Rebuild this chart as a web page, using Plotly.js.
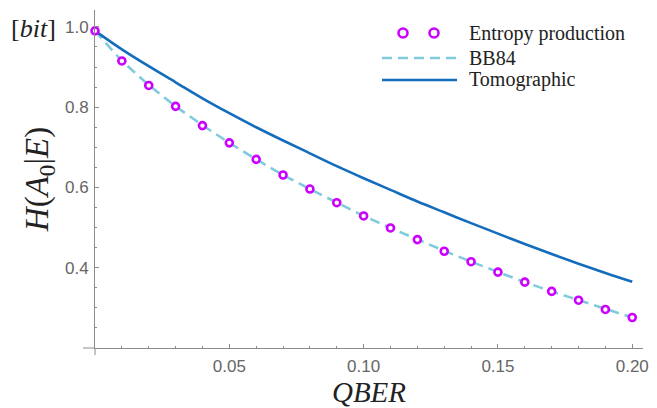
<!DOCTYPE html>
<html>
<head>
<meta charset="utf-8">
<script src="https://cdn.plot.ly/plotly-3.0.1.min.js"></script>
<style>html,body{margin:0;padding:0;background:#fff;}#chart{width:657px;height:408px;}</style>
</head>
<body>
<div id="chart"></div>
<script>
// ---- data ----
const qber = [0, 0.01, 0.02, 0.03, 0.04, 0.05, 0.06, 0.07, 0.08, 0.09, 0.10,
              0.11, 0.12, 0.13, 0.14, 0.15, 0.16, 0.17, 0.18, 0.19, 0.20];
const entropyProduction = [0.990, 0.915, 0.854, 0.802, 0.754, 0.711, 0.670, 0.631, 0.596, 0.562, 0.529,
                           0.499, 0.470, 0.441, 0.415, 0.389, 0.364, 0.341, 0.319, 0.296, 0.276];
const bb84 = [0.990, 0.915, 0.855, 0.802, 0.755, 0.711, 0.670, 0.631, 0.596, 0.562, 0.529,
              0.499, 0.470, 0.442, 0.415, 0.389, 0.364, 0.341, 0.319, 0.297, 0.276];
const tomographic = [0.990, 0.944, 0.902, 0.862, 0.822, 0.785, 0.750, 0.717, 0.685, 0.653, 0.623,
                     0.594, 0.565, 0.538, 0.511, 0.485, 0.459, 0.434, 0.410, 0.387, 0.365];
const xTicks = [0.05, 0.10, 0.15, 0.20];
const xTickText = ['0.05', '0.10', '0.15', '0.20'];
const yTicks = [0.4, 0.6, 0.8, 1.0];
const yTickText = ['0.4', '0.6', '0.8', '1.0'];
const seriesNames = ['Entropy production', 'BB84', 'Tomographic'];

// ---- styling ----
const W = 657, H = 408;
const M = {l: 95, r: 14, t: 10, b: 60};
const magenta = '#cc00ff', cyan = '#7fcbdc', blue = '#146cbc', axisGrey = '#8c8c8c', tickGrey = '#666666';
const px = X => (X - M.l) / (W - M.l - M.r);
const py = Y => (H - M.b - Y) / (H - M.t - M.b);

const traces = [
  {x: qber, y: bb84, mode: 'lines', name: seriesNames[1], showlegend: false,
   line: {color: cyan, width: 2.6, dash: '10px,6px'}},
  {x: qber, y: tomographic, mode: 'lines', name: seriesNames[2], showlegend: false,
   line: {color: blue, width: 2.6, shape: 'spline'}},
  {x: qber, y: entropyProduction, mode: 'markers', name: seriesNames[0], showlegend: false,
   marker: {symbol: 'circle', size: 7, color: '#ffffff', line: {color: magenta, width: 2.6}}, cliponaxis: false}
];

const serif = 'Liberation Serif, Times New Roman, serif';
const legY = [33, 58, 80];
const shapes = [
  // axis overhangs
  {type: 'line', xref: 'paper', yref: 'paper', x0: px(83), x1: px(95), y0: 0, y1: 0, line: {color: axisGrey, width: 1}},
  {type: 'line', xref: 'paper', yref: 'paper', x0: 0, x1: 0, y0: py(355), y1: 0, line: {color: axisGrey, width: 1}},
  // legend samples
  {type: 'line', xref: 'paper', yref: 'paper', x0: px(382), x1: px(457), y0: py(legY[1]), y1: py(legY[1]),
   line: {color: cyan, width: 2.6, dash: '10px,6px'}},
  {type: 'line', xref: 'paper', yref: 'paper', x0: px(382), x1: px(457), y0: py(legY[2]), y1: py(legY[2]),
   line: {color: blue, width: 2.6}}
];
[403, 434].forEach(cx => shapes.push({type: 'circle', xref: 'paper', yref: 'paper',
  x0: px(cx - 4.5), x1: px(cx + 4.5), y0: py(legY[0] + 4.5), y1: py(legY[0] - 4.5),
  fillcolor: '#ffffff', line: {color: magenta, width: 2.6}}));

const annotations = seriesNames.map((t, i) => ({
  text: t, xref: 'paper', yref: 'paper', x: px(467), y: py(legY[i]), xanchor: 'left', yanchor: 'middle',
  showarrow: false, font: {family: serif, size: 20, color: '#222222'}
}));
annotations.push({text: '[<i>bit</i>]', xref: 'paper', yref: 'paper', x: px(33), y: py(29),
  xanchor: 'center', yanchor: 'middle', showarrow: false, font: {family: serif, size: 26, color: '#222222'}});

const tickFont = {family: 'Liberation Sans, Arial, sans-serif', size: 17, color: tickGrey};
const layout = {
  width: W, height: H, margin: M, paper_bgcolor: '#ffffff', plot_bgcolor: '#ffffff', showlegend: false,
  xaxis: {range: [0, 0.204], tickmode: 'array', tickvals: xTicks, ticktext: xTickText,
    ticks: 'inside', ticklen: 4, tickcolor: axisGrey, tickwidth: 1, ticklabelstandoff: 3,
    minor: {tickmode: 'linear', tick0: 0, dtick: 0.01, ticks: 'inside', ticklen: 2, tickcolor: axisGrey},
    showline: true, linecolor: axisGrey, linewidth: 1, showgrid: false, zeroline: false,
    tickfont: tickFont,
    title: {text: '<i>QBER</i>', font: {family: serif, size: 29, color: '#222222'}, standoff: 8}},
  yaxis: {range: [0.2, 1.042], tickmode: 'array', tickvals: yTicks, ticktext: yTickText,
    ticks: 'inside', ticklen: 4, tickcolor: axisGrey, tickwidth: 1, ticklabelstandoff: 2,
    minor: {tickmode: 'linear', tick0: 0.2, dtick: 0.05, ticks: 'inside', ticklen: 2, tickcolor: axisGrey},
    showline: true, linecolor: axisGrey, linewidth: 1, showgrid: false, zeroline: false,
    tickfont: tickFont,
    title: {text: '<i>H</i>(<i>A</i><sub>0</sub>|<i>E</i>)', font: {family: serif, size: 33, color: '#222222'}, standoff: 6}},
  shapes: shapes, annotations: annotations
};

Plotly.newPlot('chart', traces, layout, {displayModeBar: false, staticPlot: true});
</script>
</body>
</html>
